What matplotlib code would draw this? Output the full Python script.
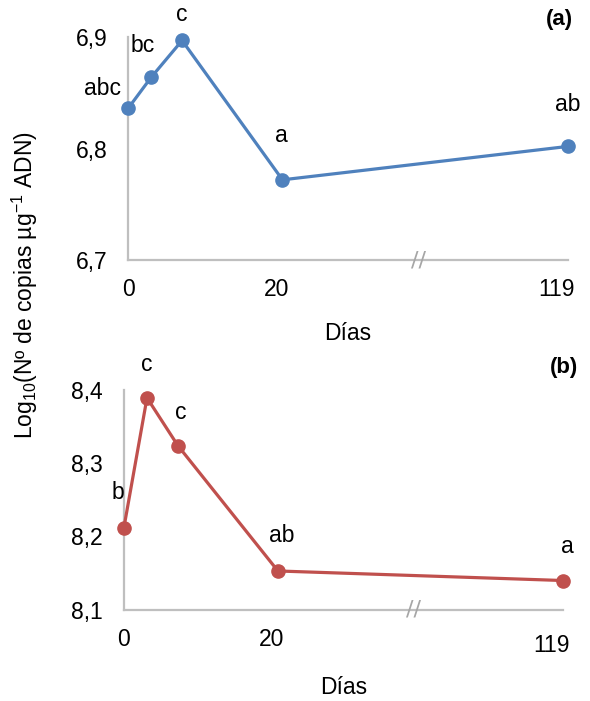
import matplotlib
matplotlib.use("Agg")
import matplotlib.pyplot as plt
import matplotlib.transforms as mtransforms
from matplotlib.ticker import FuncFormatter

plt.rcParams["font.family"] = ["Liberation Sans", "DejaVu Sans"]
plt.rcParams["mathtext.fontset"] = "custom"
plt.rcParams["mathtext.rm"] = "Liberation Sans"
plt.rcParams["mathtext.it"] = "Liberation Sans:italic"

days = [0, 3, 7, 20, 119]
tick_days = [0, 20, 119]

log_copies_a = [6.836, 6.864, 6.897, 6.772, 6.802]
letters_a = ["abc", "bc", "c", "a", "ab"]
yticks_a = [6.7, 6.8, 6.9]

log_copies_b = [8.212, 8.389, 8.324, 8.153, 8.140]
letters_b = ["b", "c", "c", "ab", "a"]
yticks_b = [8.1, 8.2, 8.3, 8.4]

# broken axis: days up to 20 are linear, day 119 sits after the break
BREAK_DAY = 20
LAST_POS = 57
BREAK_MARK_POS = 37.6


def axis_pos(d):
    return d if d <= BREAK_DAY else LAST_POS


GRAY = "#bfbfbf"
FS = 16.5

fig = plt.figure(figsize=(5.9, 7.01), dpi=100)


def draw_panel(rect, values, letters, yticks, color, offsets, tag, tag_xy,
               last_tick_shift, xlabel_pad):
    ax = fig.add_axes(rect)
    xs = [axis_pos(d) for d in days]
    ax.plot(xs, values, color=color, lw=2.3, marker="o", ms=9.5,
            clip_on=False, zorder=3)
    for x, y, lab, off in zip(xs, values, letters, offsets):
        ax.annotate(lab, (x, y), xytext=off, textcoords="offset pixels",
                    ha="center", va="center", fontsize=FS)
    ax.set_xlim(0, LAST_POS)
    ax.set_ylim(yticks[0], yticks[-1])
    ax.set_yticks(yticks)
    ax.yaxis.set_major_formatter(
        FuncFormatter(lambda v, p: f"{v:.1f}".replace(".", ",")))
    ax.set_xticks([axis_pos(d) for d in tick_days])
    ax.set_xticklabels([str(d) for d in tick_days])
    ax.tick_params(axis="y", length=0, pad=15, labelsize=FS)
    ax.tick_params(axis="x", length=0, pad=13, labelsize=FS)
    labels = ax.get_xticklabels()
    shifts = [(0, 0), (-6, 0), last_tick_shift]
    for lab, (dx, dy) in zip(labels, shifts):
        lab.set_transform(lab.get_transform() + mtransforms.Affine2D().translate(dx, dy))
    for s in ("top", "right"):
        ax.spines[s].set_visible(False)
    for s in ("left", "bottom"):
        ax.spines[s].set_color(GRAY)
        ax.spines[s].set_linewidth(1.6)
    ax.set_xlabel("Días", fontsize=FS, labelpad=xlabel_pad)
    ax.text(BREAK_MARK_POS, yticks[0], "//", ha="center", va="center",
            fontsize=16, color="#a6a6a6", family="DejaVu Sans",
            clip_on=False)
    fig.text(tag_xy[0], tag_xy[1], tag, ha="right", va="center",
             fontsize=16, fontweight="bold")
    return ax


draw_panel([0.217, 0.629, 0.746, 0.318], log_copies_a, letters_a, yticks_a,
           "#4f81bd",
           [(-26, 20), (-9, 32), (0, 26), (-1, 44), (0, 42)],
           "(a)", (0.972, 1 - 20 / 701), (-12, 0), 15)

draw_panel([0.210, 0.130, 0.744, 0.314], log_copies_b, letters_b, yticks_b,
           "#c0504d",
           [(-6, 35), (0, 33), (3, 33), (4, 35), (5, 34)],
           "(b)", (0.98, 1 - 367 / 701), (-11, -6), 14)

fig.text(25 / 590, 1 - 285 / 701,
         r"Log$_{10}$(Nº de copias µg$^{-1}$ ADN)",
         rotation=90, ha="center", va="center", fontsize=FS)

fig.savefig("out.png", dpi=100)
